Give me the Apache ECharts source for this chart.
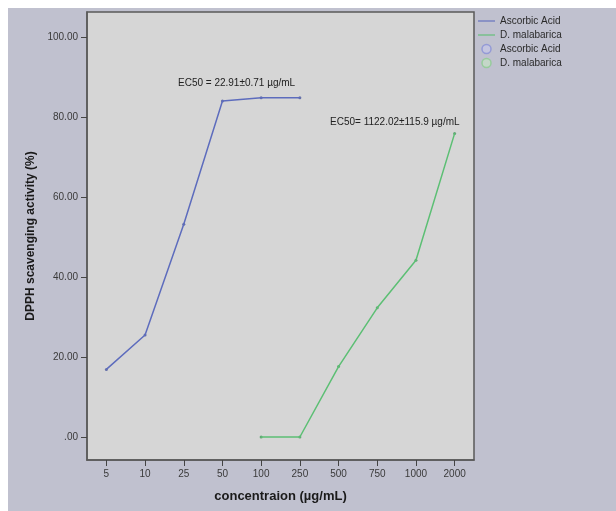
<!DOCTYPE html>
<html>
<head>
<meta charset="utf-8">
<script src="https://cdn.jsdelivr.net/npm/echarts@6/dist/echarts.min.js"></script>
<style>
html,body{margin:0;padding:0;background:#ffffff;width:616px;height:511px;overflow:hidden;}
#chart{position:absolute;left:8px;top:8px;width:608px;height:503px;}
</style>
</head>
<body>
<div id="chart"></div>
<script>
const categories = ['5','10','25','50','100','250','500','750','1000','2000'];
const ascorbicAcid = [16.9, 25.5, 53.2, 84.0, 84.8, 84.8, null, null, null, null];
const dMalabarica = [null, null, null, null, 0.0, 0.0, 17.6, 32.3, 44.2, 75.9];
const yTicks = [0, 20, 40, 60, 80, 100];
const ec50Ascorbic = 'EC50 = 22.91±0.71 µg/mL';
const ec50Malabarica = 'EC50= 1122.02±115.9 µg/mL';

const blue = '#5d6cbd';
const green = '#5cbf74';
const font = 'Liberation Sans, Arial, sans-serif';
const linePath = 'path://M0,0H20V1.3H0Z';

const chart = echarts.init(document.getElementById('chart'), null, {renderer: 'canvas'});
chart.setOption({
  backgroundColor: '#c0c1cf',
  animation: false,
  textStyle: {fontFamily: font},
  grid: {
    left: 79, top: 4, right: 142, bottom: 51,
    show: true, backgroundColor: '#d6d6d6', borderColor: '#5a5a5a', borderWidth: 1.5
  },
  legend: {
    orient: 'vertical', left: 470, top: 7, padding: 0,
    itemWidth: 17, itemHeight: 9, itemGap: 2,
    textStyle: {fontSize: 10, lineHeight: 12, color: '#2a2a2a', fontFamily: font},
    data: [
      {name: 'Ascorbic Acid', icon: linePath},
      {name: 'D. malabarica', icon: linePath},
      {name: 'Ascorbic Acid ', icon: 'circle', itemStyle: {color: '#c4c6e4', borderColor: '#8890d6', borderWidth: 1.5}},
      {name: 'D. malabarica ', icon: 'circle', itemStyle: {color: '#c4dcc6', borderColor: '#8ccc90', borderWidth: 1.5}}
    ]
  },
  xAxis: {
    type: 'category', data: categories, boundaryGap: true,
    name: 'concentraion (µg/mL)', nameLocation: 'middle', nameGap: 30,
    nameTextStyle: {fontSize: 13, fontWeight: 'bold', color: '#1a1a1a', fontFamily: font},
    axisLine: {show: true, onZero: false, lineStyle: {color: '#5a5a5a', width: 1.5}},
    axisTick: {show: true, alignWithLabel: true, length: 6, lineStyle: {color: '#444'}},
    axisLabel: {fontSize: 10, color: '#3a3a3a', margin: 9},
    splitLine: {show: false}
  },
  yAxis: {
    type: 'value', min: -5.75, max: 106.25,
    name: 'DPPH scavenging activity (%)', nameLocation: 'middle', nameGap: 47,
    nameTextStyle: {fontSize: 12, fontWeight: 'bold', color: '#1a1a1a', fontFamily: font},
    axisLine: {show: true, onZero: false, lineStyle: {color: '#5a5a5a', width: 1.5}},
    axisTick: {show: true, length: 6, customValues: yTicks, lineStyle: {color: '#444'}},
    axisLabel: {fontSize: 10, color: '#3a3a3a', margin: 9, customValues: yTicks,
      formatter: v => v === 0 ? '.00' : v.toFixed(2)},
    splitLine: {show: false}
  },
  series: [
    {name: 'Ascorbic Acid', type: 'line', data: ascorbicAcid, symbol: 'none',
      lineStyle: {color: blue, width: 1.5}, itemStyle: {color: blue}},
    {name: 'D. malabarica', type: 'line', data: dMalabarica, symbol: 'none',
      lineStyle: {color: green, width: 1.5}, itemStyle: {color: green}},
    {name: 'Ascorbic Acid ', type: 'scatter', data: ascorbicAcid, symbol: 'circle', symbolSize: 3,
      itemStyle: {color: '#4a579e'}},
    {name: 'D. malabarica ', type: 'scatter', data: dMalabarica, symbol: 'circle', symbolSize: 3,
      itemStyle: {color: '#479a5c'}}
  ],
  graphic: [
    {type: 'text', left: 170, top: 70, style: {text: ec50Ascorbic, fontSize: 10, fill: '#222', fontFamily: font}},
    {type: 'text', left: 322, top: 109, style: {text: ec50Malabarica, fontSize: 10, fill: '#222', fontFamily: font}}
  ]
});
</script>
</body>
</html>
